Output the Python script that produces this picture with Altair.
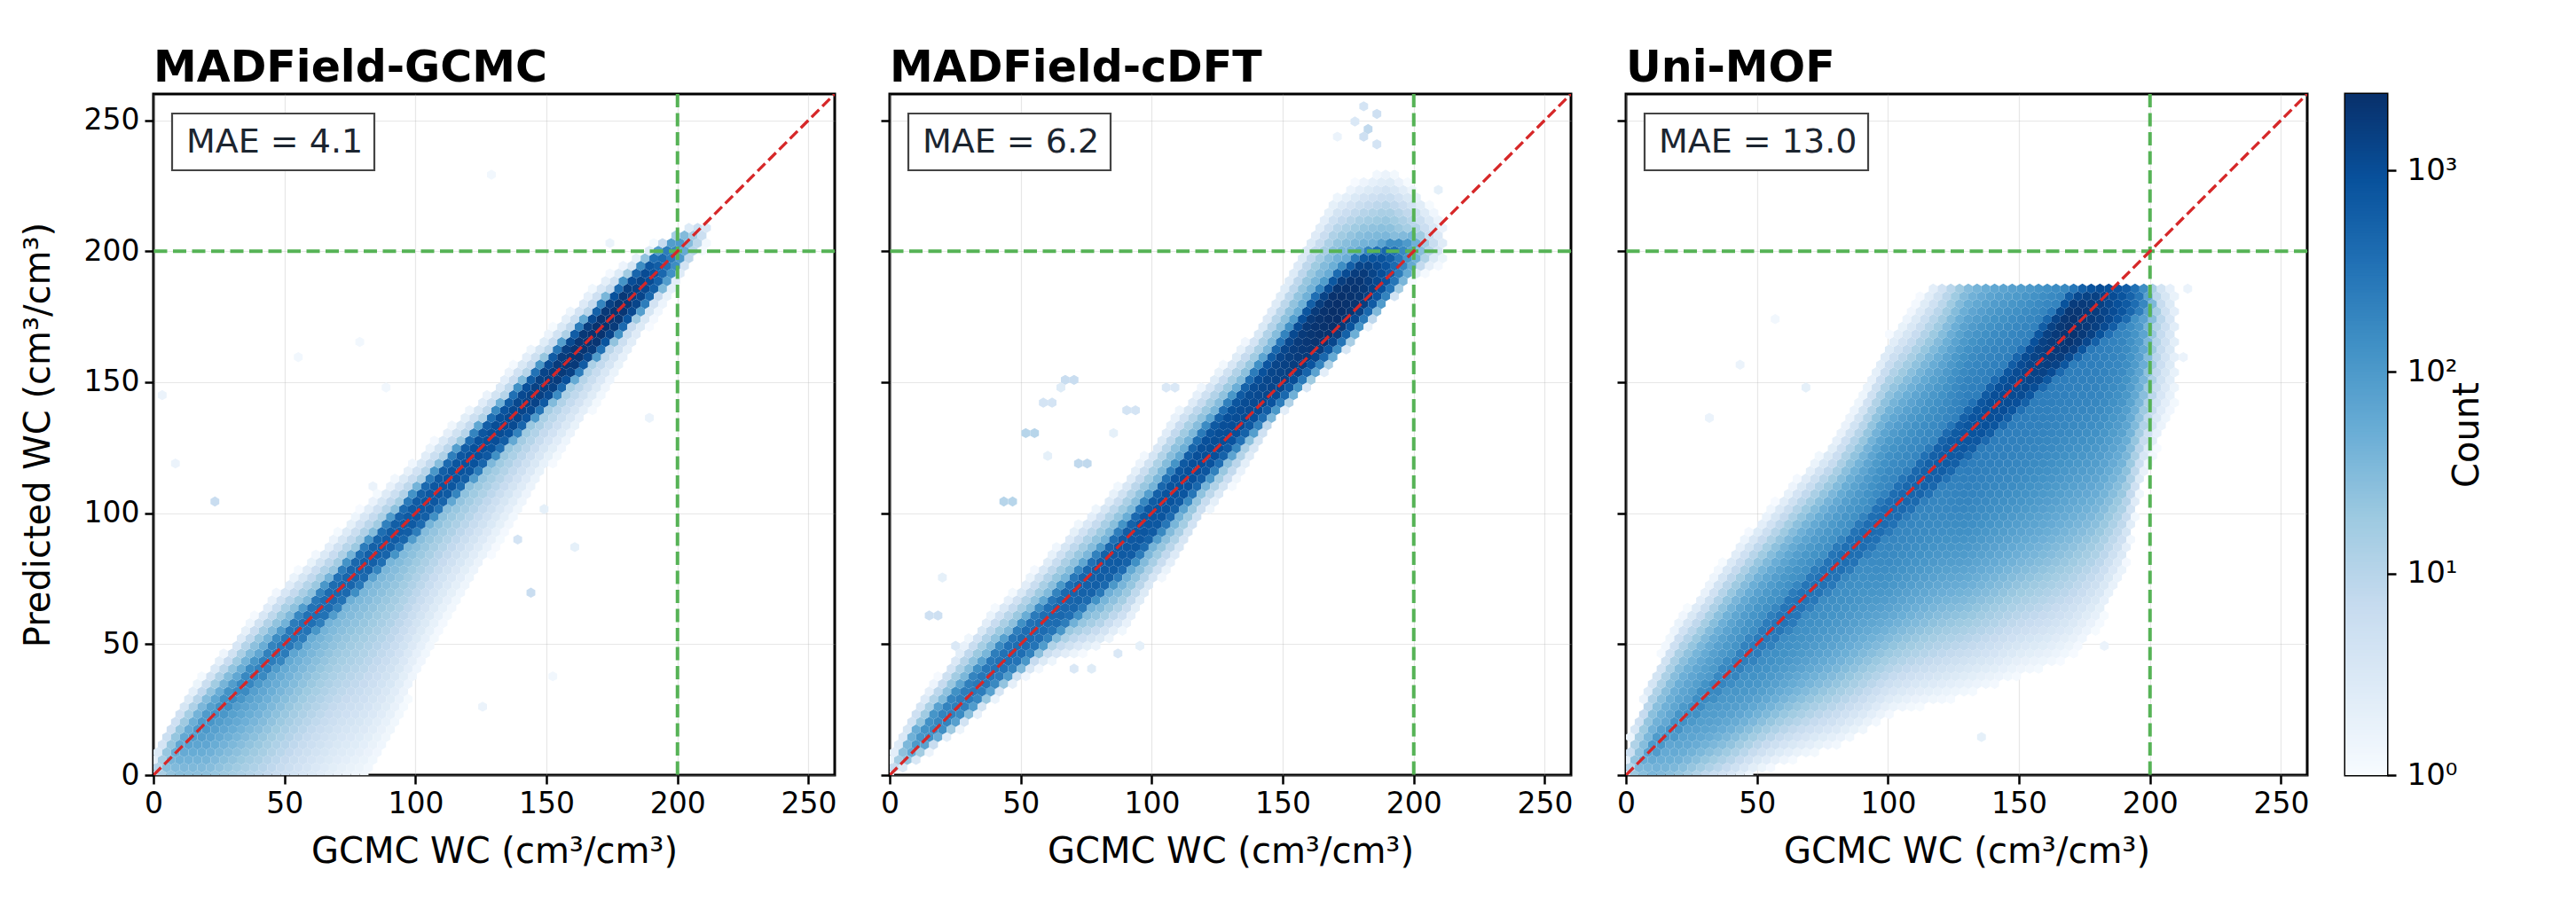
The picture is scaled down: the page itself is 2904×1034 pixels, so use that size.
import numpy as np
import pandas as pd
import altair as alt

# ---------------- chart text / values ----------------
TITLES = ["MADField-GCMC", "MADField-cDFT", "Uni-MOF"]
MAE = [4.1, 6.2, 13.0]
X_TITLE = "GCMC WC (cm³/cm³)"
Y_TITLE = "Predicted WC (cm³/cm³)"
TICKS = [0, 50, 100, 150, 200, 250]
AX_MAX = 260
THRESH = 200
DIAG = [0, 260]
VMAX = 2390          # top of the colour bar (counts)
CB_TICKS = [1, 10, 100, 1000]

# ---------------- density profiles ----------------
# per x-knot: ridge (densest y), peak log10(count), core half width,
# tail log10 level, upper edge y, lower edge y
P1_KX = [0, 5, 10, 20, 30, 40, 50, 60, 70, 80, 90, 100, 110, 120, 130, 140, 150, 160, 170, 180, 190, 200, 206, 212]
P1_RIDGE = [0, 5, 10, 20, 30, 40, 50, 60, 70, 80, 90, 100, 110, 120, 130, 140, 150, 160, 170, 180, 190, 199, 204, 208]
P1_PEAK = [0.8, 1.5, 1.8, 2.0, 2.2, 2.3, 2.45, 2.55, 2.65, 2.75, 2.8, 2.85, 2.9, 2.95, 3.0, 3.1, 3.2, 3.3, 3.35, 3.3, 3.0, 2.2, 1.2, 0.4]
P1_CORE = [4, 5, 6, 7, 8, 9, 10, 10, 11, 11, 11, 12, 12, 12, 12, 12, 12, 12, 12, 12, 11, 9, 6, 4]
P1_TAIL = [0.8, 1.5, 1.8, 2.1, 2.1, 2.1, 2.0, 1.9, 1.8, 1.8, 1.8, 1.8, 1.8, 1.8, 1.8, 1.8, 1.8, 1.8, 1.8, 1.8, 1.7, 1.4, 0.8, 0.3]
P1_HI = [8, 20, 28, 40, 51, 63, 74, 83, 93, 103, 112, 121, 131, 140, 149, 160, 169, 179, 189, 196, 203, 207, 210, 211]
P1_LO = [-20, -35, -40, -40, -40, -35, -28, -20, -12, -5, 10, 35, 55, 70, 85, 100, 115, 128, 142, 157, 172, 186, 195, 203]
P1_CAP = 260
P1_EXP = (1.5, 1.0)     # upper / lower fall-off shape
P1_OUT = [(5, 145, 0.2), (7, 120, 0.2), (24, 105, 0.8), (54, 161, 0.1), (78, 165, 0.1), (128, 229, 0.1),
          (174, 204, 0.2), (143, 69, 0.8), (140, 91, 0.6), (161, 88, 0.3), (150, 102, 0.3), (188, 136, 0.2),
          (83, 111, 0.2), (88, 148, 0.1), (127, 26, 0.2), (151, 37, 0.1)]

P2_KX = [0, 4, 10, 20, 30, 40, 50, 60, 70, 80, 90, 100, 110, 120, 130, 140, 150, 160, 170, 180, 190, 200, 206, 212]
P2_RIDGE = [2, 6, 13, 22, 31, 41, 50, 59, 68, 77, 87, 98, 110, 122, 133, 144, 155, 167, 177, 186, 193, 200, 202, 203]
P2_PEAK = [0.5, 1.3, 2.0, 2.3, 2.4, 2.5, 2.6, 2.6, 2.7, 2.8, 2.85, 2.9, 2.95, 3.0, 3.0, 3.05, 3.15, 3.3, 3.4, 3.3, 2.9, 1.8, 1.0, 0.3]
P2_CORE = [3, 4, 7, 9, 10, 11, 12, 12, 13, 13, 14, 14, 14, 15, 15, 16, 17, 19, 20, 18, 14, 10, 6, 4]
P2_TAIL = [0.4, 1.1, 1.6, 1.8, 1.9, 1.9, 1.9, 1.9, 1.9, 2.0, 2.0, 2.0, 2.1, 2.1, 2.1, 2.1, 2.1, 2.1, 2.1, 2.0, 1.8, 1.3, 0.8, 0.3]
P2_HI = [8, 15, 27, 40, 53, 64, 73, 84, 95, 104, 114, 126, 140, 150, 160, 171, 188, 207, 222, 228, 232, 225, 218, 212]
P2_LO = [-3, 1, 4, 12, 19, 28, 36, 42, 45, 48, 55, 70, 82, 98, 109, 123, 138, 150, 161, 172, 181, 189, 192, 195]
P2_CAP = 260
P2_EXP = (1.8, 1.8)
P2_OUT = [(68, 151, 0.8), (72, 151, 0.8), (65, 148, 0.4), (58, 142, 0.6), (61, 141, 0.6), (52, 130, 1.0),
          (55, 130, 1.0), (72, 119, 0.9), (74, 119, 0.9), (44, 105, 1.0), (47, 105, 1.0), (92, 139, 0.6),
          (95, 139, 0.6), (104, 147, 0.5), (109, 147, 0.5), (14, 62, 0.7), (17, 62, 0.7), (21, 74, 0.3),
          (168, 218, 0.3), (211, 224, 0.3), (180, 243, 0.7), (183, 247, 0.9), (185, 252, 0.7),
          (182, 256, 0.6), (178, 250, 0.5), (186, 241, 0.6), (172, 243, 0.2), (24, 50, 0.5),
          (60, 123, 0.3), (86, 132, 0.3), (70, 42, 0.5), (78, 40, 0.4), (88, 45, 0.5), (95, 50, 0.3)]

P3_KX = [0, 3, 10, 20, 30, 40, 50, 60, 70, 80, 90, 100, 110, 120, 130, 140, 150, 160, 170, 180, 190, 197, 203, 210]
P3_RIDGE = [1, 3, 10, 20, 30, 40, 50, 60, 70, 80, 90, 100, 110, 120, 130, 140, 150, 161, 171, 177, 181, 182, 176, 170]
P3_PEAK = [0.6, 1.4, 2.0, 2.1, 2.2, 2.3, 2.4, 2.5, 2.5, 2.55, 2.6, 2.6, 2.7, 2.8, 2.9, 3.0, 3.05, 3.2, 3.35, 3.2, 2.9, 2.4, 1.1, 0.3]
P3_CORE = [4, 5, 7, 9, 10, 11, 12, 13, 13, 14, 14, 15, 15, 16, 16, 17, 18, 19, 20, 18, 14, 10, 7, 5]
P3_TAIL = [0.5, 1.3, 1.7, 1.9, 2.0, 2.1, 2.2, 2.2, 2.2, 2.2, 2.2, 2.3, 2.3, 2.3, 2.4, 2.4, 2.4, 2.4, 2.4, 2.4, 2.3, 2.0, 1.0, 0.3]
P3_HI = [10, 20, 40, 60, 72, 86, 97, 108, 119, 130, 146, 168, 180, 195, 215, 225, 225, 225, 225, 215, 205, 200, 195, 190]
P3_LO = [-15, -20, -20, -15, -10, -6, 0, 4, 7, 10, 15, 22, 25, 27, 30, 33, 37, 40, 45, 55, 75, 110, 125, 140]
P3_CAP = 188
P3_EXP = (2.2, 2.2)
P3_OUT = [(137, 14, 0.3), (214, 187, 0.2), (214, 160, 0.2), (183, 50, 0.2), (32, 136, 0.2),
          (45, 158, 0.2), (68, 147, 0.3), (57, 173, 0.1)]

PROFILES = [
    (P1_KX, P1_RIDGE, P1_PEAK, P1_CORE, P1_TAIL, P1_HI, P1_LO, P1_CAP, P1_EXP, P1_OUT),
    (P2_KX, P2_RIDGE, P2_PEAK, P2_CORE, P2_TAIL, P2_HI, P2_LO, P2_CAP, P2_EXP, P2_OUT),
    (P3_KX, P3_RIDGE, P3_PEAK, P3_CORE, P3_TAIL, P3_HI, P3_LO, P3_CAP, P3_EXP, P3_OUT),
]

# ---------------- styling ----------------
BLUES = ["#f7fbff", "#deebf7", "#c6dbef", "#9ecae1", "#6baed6",
         "#4292c6", "#2171b5", "#08519c", "#08306b"]
RED = "#d62728"
GREEN = "#56b356"
FONT = "DejaVu Sans"
PW = 768                 # panel plot size (px)
CBW = 47                 # colour bar thickness
SX = 3.35                # hexagon width in data units
DY = SX * np.sqrt(3) / 2
PXU = PW / AX_MAX
HEX_R = SX * PXU / np.sqrt(3)
HEX_SIZE = (2 * HEX_R) ** 2
HEX = "M0,-1L0.866,-0.5L0.866,0.5L0,1L-0.866,0.5L-0.866,-0.5Z"
BOX_W = [228, 228, 252]


def hex_cells(kx, ridge, peak, core, tail, hi, lo, cap, exps, outliers):
    eu, el = exps
    cells = {}
    nj = int(AX_MAX / DY) + 2
    ni = int(AX_MAX / SX) + 2
    for j in range(0, nj):
        y = j * DY
        off = SX / 2 if j % 2 else 0.0
        for i in range(-1, ni):
            x = i * SX + off
            if x < kx[0] or x > kx[-1] or y > cap:
                continue
            r = np.interp(x, kx, ridge)
            pk = np.interp(x, kx, peak)
            c = np.interp(x, kx, core)
            t = np.interp(x, kx, tail)
            h = np.interp(x, kx, hi)
            lw = np.interp(x, kx, lo)
            d = y - r
            v = -1.0
            if abs(d) < c:
                v = pk * (1 - (abs(d) / c) ** 4)
            if d >= 0:
                s = d / max(h - r, 1e-6)
                e = eu
            else:
                s = -d / max(r - lw, 1e-6)
                e = el
            if s < 1:
                v = max(v, t * (1 - s ** e))
            if v >= 0.02:
                cells[(i, j)] = v
    for (ox, oy, ov) in outliers:
        j = int(round(oy / DY))
        off = SX / 2 if j % 2 else 0.0
        i = int(round((ox - off) / SX))
        cells[(i, j)] = max(cells.get((i, j), 0), ov)
    rows = []
    for (i, j), v in cells.items():
        off = SX / 2 if j % 2 else 0.0
        rows.append({"x": round(i * SX + off, 3), "y": round(j * DY, 3), "count": round(float(10 ** v), 2)})
    return pd.DataFrame(rows)


dom = [float(10 ** (k * np.log10(VMAX) / 8)) for k in range(9)]
color_scale = alt.Scale(type="log", domain=dom, range=BLUES, interpolate="rgb")
xs = alt.Scale(domain=[0, AX_MAX], nice=False, zero=False)
ys = alt.Scale(domain=[0, AX_MAX], nice=False, zero=False)
one = pd.DataFrame({"a": [0]})
diag_df = pd.DataFrame({"x": DIAG, "y": DIAG})


def panel(k):
    df = hex_cells(*PROFILES[k])
    xaxis = alt.Axis(values=TICKS, title=X_TITLE, grid=True, titlePadding=17)
    if k == 0:
        yaxis = alt.Axis(values=TICKS, title=Y_TITLE, grid=True, titlePadding=31)
    else:
        yaxis = alt.Axis(values=TICKS, title=None, labels=False, grid=True)
    hexes = alt.Chart(df).mark_point(
        shape=HEX, filled=True, size=HEX_SIZE, opacity=1, strokeWidth=0, clip=True
    ).encode(
        x=alt.X("x:Q", scale=xs, axis=xaxis),
        y=alt.Y("y:Q", scale=ys, axis=yaxis),
        color=alt.Color("count:Q", scale=color_scale, legend=None),
    )
    vline = alt.Chart(one).mark_rule(color=GREEN, strokeWidth=4, strokeDash=[15, 6.5]).encode(
        x=alt.datum(THRESH))
    hline = alt.Chart(one).mark_rule(color=GREEN, strokeWidth=4, strokeDash=[15, 6.5]).encode(
        y=alt.datum(THRESH))
    diag = alt.Chart(diag_df).mark_line(color=RED, strokeWidth=3.3, strokeDash=[12, 5.2],
                                        clip=True).encode(x="x:Q", y="y:Q")
    box = alt.Chart(one).mark_rect(fill="white", stroke="#444444", strokeWidth=2.2).encode(
        x=alt.value(21), x2=alt.value(21 + BOX_W[k]), y=alt.value(22), y2=alt.value(86))
    txt = alt.Chart(one).mark_text(align="left", baseline="alphabetic", fontSize=38,
                                   color="#1c2530", font=FONT).encode(
        x=alt.value(37), y=alt.value(66), text=alt.value(f"MAE = {MAE[k]:.1f}"))
    return alt.layer(hexes, vline, hline, diag, box, txt).properties(
        width=PW, height=PW,
        title=alt.TitleParams(text=TITLES[k], anchor="start", frame="group", fontSize=49,
                              fontWeight="bold", font=FONT, color="black", offset=2),
    )


# colour bar ramp
ramp = np.linspace(0, np.log10(VMAX), 241)
step = ramp[1] - ramp[0]
cb_df = pd.DataFrame({"lo": 10 ** ramp[:-1],
                      "hi": 10 ** np.minimum(ramp[1:] + 0.6 * step, ramp[-1]),
                      "mid": 10 ** ((ramp[:-1] + ramp[1:]) / 2)})
cbar = alt.Chart(cb_df).mark_rect().encode(
    y=alt.Y("lo:Q", scale=alt.Scale(type="log", domain=[1, VMAX], nice=False),
            axis=alt.Axis(orient="right", values=CB_TICKS, grid=False, title="Count",
                          titleAngle=270, titlePadding=32, labelFontSize=34, labelPadding=12,
                          labelExpr="datum.value < 5 ? '10⁰' : datum.value < 50 ? '10¹' : datum.value < 500 ? '10²' : '10³'")),
    y2="hi:Q",
    x=alt.value(0), x2=alt.value(CBW),
    color=alt.Color("mid:Q", scale=color_scale, legend=None),
).properties(width=CBW, height=PW)

row = alt.hconcat(panel(0), panel(1), panel(2), spacing=62, bounds="flush")
chart = alt.hconcat(row, cbar, spacing=37).properties(
    padding={"left": 13, "top": 43, "right": 5, "bottom": 5}
).configure(font=FONT).configure_view(
    stroke="black", strokeWidth=3
).configure_axis(
    domain=False, tickSize=10, tickWidth=2.5, tickColor="black",
    labelFontSize=33, labelColor="black", labelPadding=6, labelFont=FONT,
    titleFontSize=40, titleFontWeight="normal", titleColor="black", titlePadding=12, titleFont=FONT,
    gridColor="#b0b0b0", gridOpacity=0.3, gridWidth=1.2,
).configure_axisX(labelFlush=False).configure_axisY(labelFlush=False)

chart.save("out.html", embed_options={"renderer": "svg", "actions": False})
